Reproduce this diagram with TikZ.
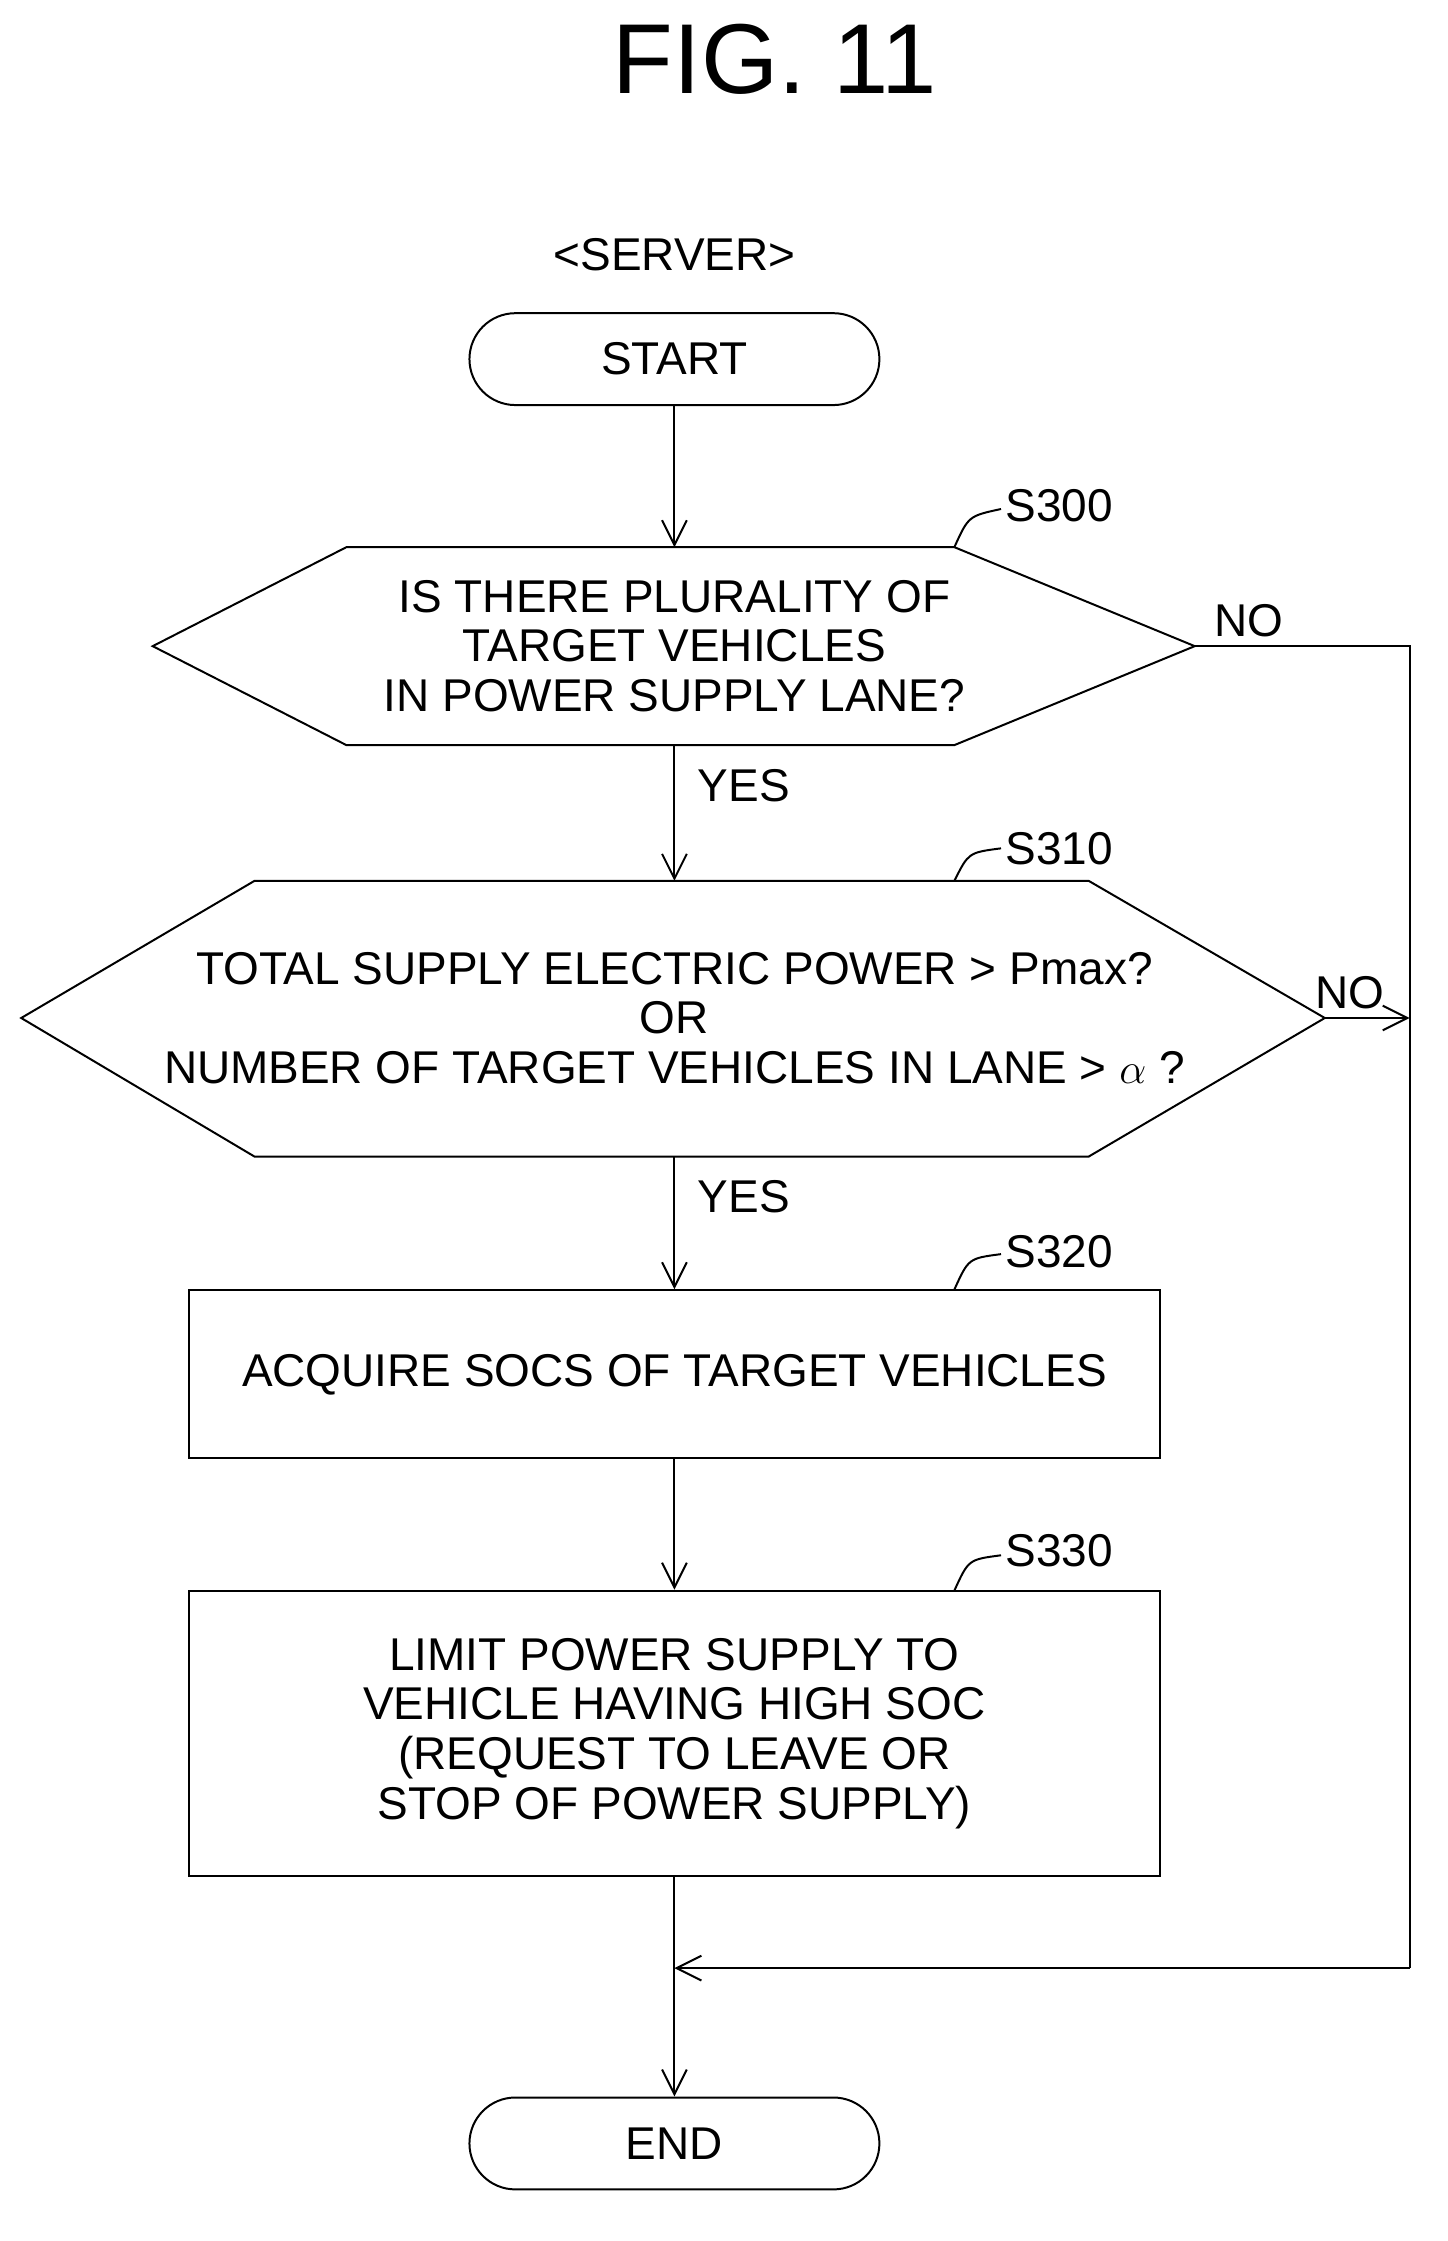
\documentclass[tikz,border=0pt]{standalone}
\usepackage{fontspec}
\setmainfont{Liberation Sans}
\usetikzlibrary{arrows.meta,positioning}
\newcommand{\stepfont}{\fontsize{18.5}{20}\selectfont}

\begin{document}
\begin{tikzpicture}[x=0.02cm,y=-0.02cm]
\tikzstyle{term}=[draw,thick,rounded corners=0.65cm,minimum width=5.8cm,minimum height=1.3cm,font=\stepfont]
\tikzstyle{proc}=[draw,thick,minimum width=13.74cm,font=\stepfont,align=center]
\tikzstyle{flow}=[thick,-{Straight Barb[length=0.35cm,width=0.35cm]}]
\tikzstyle{steplabel}=[font=\stepfont,anchor=west]
\tikzstyle{lead}=[thick]

\useasboundingbox (0,0) rectangle (1024,1585);

\node (title) [font=\fontsize{40}{44}\selectfont] at (548,42) {FIG. 11};
\node (server) [font=\stepfont] at (477,180) {<SERVER>};

\node (start) [term] at (477,254) {START};

% S300
\draw[thick] (108,457) -- (245,387) -- (675,387) -- (845,457) -- (675,527) -- (245,527) -- cycle;
\coordinate (s300n) at (477,387);
\coordinate (s300s) at (477,527);
\coordinate (s300e) at (845,457);
\node (s300) [font=\stepfont,align=center] at (477,457) {IS THERE PLURALITY OF\\TARGET VEHICLES\\IN POWER SUPPLY LANE?};
\node (l300) [steplabel] at (705,358) {S300};
\draw[lead] (675,387) .. controls (685,365) .. (708,360);

% S310
\draw[thick] (15,720) -- (180,623) -- (770,623) -- (937,720) -- (770,818) -- (180,818) -- cycle;
\coordinate (s310n) at (477,623);
\coordinate (s310s) at (477,818);
\coordinate (s310e) at (937,720);
\node (s310) [font=\stepfont,align=center] at (477,720) {TOTAL SUPPLY ELECTRIC POWER > Pmax?\\OR\\NUMBER OF TARGET VEHICLES IN LANE > $\alpha$ ?};
\node (l310) [steplabel] at (705,600) {S310};
\draw[lead] (675,623) .. controls (685,603) .. (708,600);

\node (s320) [proc,minimum height=2.38cm] at (477,972) {ACQUIRE SOCS OF TARGET VEHICLES};
\node (l320) [steplabel] at (705,885) {S320};
\draw[lead] (675,912) .. controls (685,890) .. (708,887);

\node (s330) [proc,minimum height=4.04cm] at (477,1226) {LIMIT POWER SUPPLY TO\\VEHICLE HAVING HIGH SOC\\(REQUEST TO LEAVE OR\\STOP OF POWER SUPPLY)};
\node (l330) [steplabel] at (705,1097) {S330};
\draw[lead] (675,1125) .. controls (685,1103) .. (708,1100);

\node (end) [term] at (477,1516) {END};

\coordinate (noA) at (997,457);
\coordinate (noB) at (997,720);
\coordinate (noC) at (997,1392);
\coordinate (merge) at (477,1392);

\draw[flow] (start) -- (s300n);
\draw[flow] (s300s) -- node[right,font=\stepfont,pos=0.3,xshift=0.2cm] {YES} (s310n);
\draw[flow] (s310s) -- node[right,font=\stepfont,pos=0.3,xshift=0.2cm] {YES} (s320);
\draw[flow] (s320) -- (s330);
\draw[flow] (s330) -- (end);
\draw[thick] (s300e) -- node[above,font=\stepfont,pos=0.25] {NO} (noA) -- (noC);
\draw[flow] (s310e) -- node[above,font=\stepfont,pos=0.3] {NO} (noB);
\draw[flow] (noC) -- (merge);
\end{tikzpicture}
\end{document}
